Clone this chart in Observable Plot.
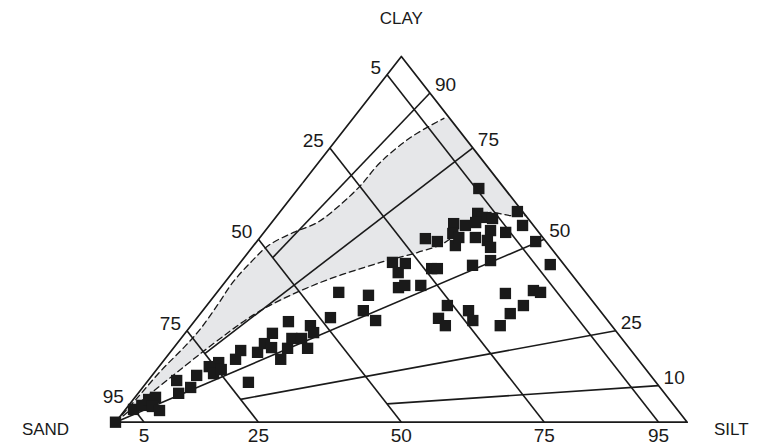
<!DOCTYPE html>
<html><head><meta charset="utf-8">
<script src="https://cdn.jsdelivr.net/npm/d3@7"></script>
<script src="https://cdn.jsdelivr.net/npm/@observablehq/plot@0.6"></script>
<style>
body{margin:0;background:#fff;}
#chart{width:768px;height:446px;}
</style>
</head><body><div id="chart"></div>
<script>
// ---- data (percent) ----
const sandLevels = [5, 25, 50, 75, 95];              // constant-sand lines
const ratioLevels = [10, 25, 50, 75, 90];            // clay/(clay+silt) lines
const ratioStartSand = [50, 75, 100, 75, 50];        // sand % where each ratio line starts
const vertexNames = ["SAND", "SILT", "CLAY"];

const sampleClay = [0,3.5,4.6,6.2,6.8,4.3,3.2,11.4,7.9,9.5,12.8,15.2,16.3,13.3,14.4,17.2,19.6,10.9,19.1,21.5,24.3,20.4,17.2,20.2,22.9,27.5,22.9,20.2,26.4,24.5,28.6,35.5,34.7,30.5,27.8,43.7,43.4,40.9,42.0,42.0,36.8,37.4,37.4,31.9,28.4,26.4,30.5,27.8,35.2,36.0,35.5,31.9,29.7,26.4,63.9,57.1,56.0,57.6,53.8,55.7,54.3,53.8,54.6,50.2,49.4,51.6,48.3,50.5,50.5,52.4,51.9,49.7,47.8,49.4,42.9,44.2,43.1];
const sampleSilt = [0,1.4,2.3,2.7,3.6,4.3,6.1,5.0,7.1,8.4,7.8,8.8,9.9,10.5,11.3,12.4,12.1,17.8,15.3,15.3,15.3,17.1,20.3,20.0,19.4,16.5,21.1,23.5,20.9,22.4,23.3,21.3,26.9,28.1,31.6,26.6,29.0,29.0,34.3,35.3,31.1,31.9,34.7,42.1,42.3,44.5,46.5,48.6,50.6,55.1,56.6,55.4,54.2,54.1,31.6,34.8,36.2,41.5,44.3,38.1,32.0,34.3,35.7,29.1,31.6,33.2,35.3,34.8,37.7,39.4,42.3,40.2,41.7,48.8,41.0,43.5,54.5];

const upperBoundClay = [0,7.0,13.9,21.0,25.6,32.2,38.5,43.7,48.3,51.9,54.6,59.5,64.7,71.0,77.9,83.1];
const upperBoundSilt = [0,0.5,0.9,1.8,2.1,1.8,1.4,1.8,2.6,5.2,8.0,9.6,10.5,10.8,12.7,15.9];
const lowerBoundClay = [0,21.5,30.5,37.9,43.7,46.4,48.9,53.5,57.3,56.5,56.5];
const lowerBoundSilt = [0,6.4,10.1,16.4,24.5,29.6,32.9,34.5,36.6,40.8,43.5];

// ---- ternary helpers ----
const tx = (silt, clay) => silt + clay / 2;
const pt = (silt, clay) => ({x: tx(silt, clay), y: clay});

const samples = sampleClay.map((c, i) => pt(sampleSilt[i], c));
const upper = upperBoundClay.map((c, i) => pt(upperBoundSilt[i], c));
const lower = lowerBoundClay.map((c, i) => pt(lowerBoundSilt[i], c));
const topEdge = upperBoundClay[upperBoundClay.length - 1];
const shade = [...upper, pt(100 - topEdge, topEdge), ...lower.slice().reverse()];

const vertices = [pt(0, 0), pt(100, 0), pt(0, 100)];
const outline = [...vertices, vertices[0]];

const sandLines = sandLevels.map(s => {
  const a = pt(0, 100 - s), b = pt(100 - s, 0);
  return {x1: a.x, y1: a.y, x2: b.x, y2: b.y, s};
});
const ratioLines = ratioLevels.map((r, i) => {
  const f = (100 - ratioStartSand[i]) / 100;
  const a = pt(f * (100 - r), f * r), b = pt(100 - r, r);
  return {x1: a.x, y1: a.y, x2: b.x, y2: b.y, r};
});

const font = "'Liberation Sans', Arial, Helvetica, sans-serif";
const ink = "#1a1a1a";

const chart = Plot.plot({
  width: 768, height: 446, margin: 0,
  style: {fontFamily: font, background: "#fff", color: ink},
  x: {domain: [0, 100], range: [115, 686.7], axis: null},
  y: {domain: [0, 100], range: [421.7, 56], axis: null},
  marks: [
    Plot.line(shade, {x: "x", y: "y", fill: "#e6e7e9", stroke: "none"}),
    Plot.link(sandLines, {x1: "x1", y1: "y1", x2: "x2", y2: "y2", stroke: ink, strokeWidth: 1.6}),
    Plot.link(ratioLines, {x1: "x1", y1: "y1", x2: "x2", y2: "y2", stroke: ink, strokeWidth: 1.6}),
    Plot.line(outline, {x: "x", y: "y", stroke: ink, strokeWidth: 1.7}),
    Plot.line(upper, {x: "x", y: "y", stroke: ink, strokeWidth: 1.3, strokeDasharray: "6,4", curve: "catmull-rom"}),
    Plot.line(lower, {x: "x", y: "y", stroke: ink, strokeWidth: 1.3, strokeDasharray: "6,4", curve: "catmull-rom"}),
    Plot.dot(samples, {x: "x", y: "y", symbol: "square", r: 6.4, fill: ink, stroke: "none"}),
    // left-edge labels (sand %)
    Plot.text(sandLevels, {x: s => (100 - s) / 2, y: s => 100 - s, text: s => String(s),
      textAnchor: "end", dx: -6, dy: -7, fontSize: 19, fill: ink}),
    // bottom labels
    Plot.text(sandLevels, {x: s => 100 - s, y: 0, text: s => String(100 - s),
      textAnchor: "middle", dy: 14, fontSize: 19, fill: ink}),
    // right-edge labels (clay ratio)
    Plot.text(ratioLevels, {x: r => tx(100 - r, r), y: r => r, text: r => String(r),
      textAnchor: "start", dx: 5, dy: -8, fontSize: 19, fill: ink}),
    // vertex names
    Plot.text([vertices[0]], {x: "x", y: "y", text: () => vertexNames[0], dx: -70, dy: 7, fontSize: 17, fill: ink}),
    Plot.text([vertices[1]], {x: "x", y: "y", text: () => vertexNames[1], dx: 44, dy: 7, fontSize: 17, fill: ink}),
    Plot.text([vertices[2]], {x: "x", y: "y", text: () => vertexNames[2], dy: -38, fontSize: 17, fill: ink})
  ]
});
document.getElementById("chart").appendChild(chart);
</script>
</body></html>
